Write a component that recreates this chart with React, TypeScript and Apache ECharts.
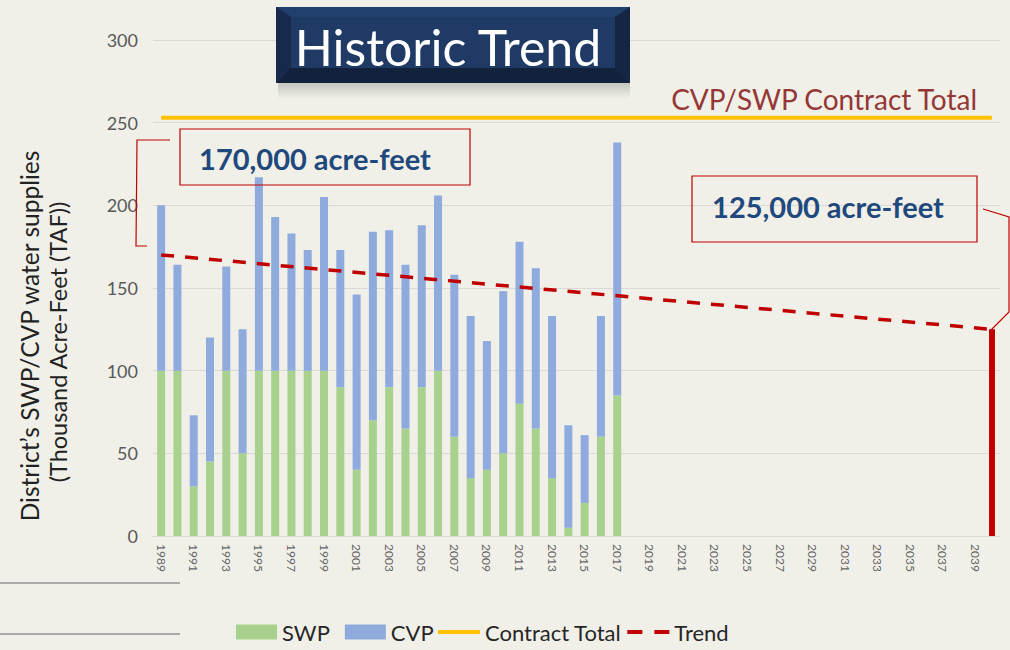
import React, { useEffect, useRef } from "react";
import * as echarts from "echarts";

const years = [
  "1989", "1990", "1991", "1992", "1993", "1994", "1995", "1996", "1997", "1998",
  "1999", "2000", "2001", "2002", "2003", "2004", "2005", "2006", "2007", "2008",
  "2009", "2010", "2011", "2012", "2013", "2014", "2015", "2016", "2017", "2018",
  "2019", "2020", "2021", "2022", "2023", "2024", "2025", "2026", "2027", "2028",
  "2029", "2030", "2031", "2032", "2033", "2034", "2035", "2036", "2037", "2038",
  "2039", "2040",
];

// Thousand acre-feet, 1989-2017
const swp = [100, 100, 30, 45, 100, 50, 100, 100, 100, 100, 100, 90, 40, 70, 90, 65, 90, 100, 60, 35, 40, 50, 80, 65, 35, 5, 20, 60, 85];
const cvp = [100, 64, 43, 75, 63, 75, 117, 93, 83, 73, 105, 83, 106, 114, 95, 99, 98, 106, 98, 98, 78, 98, 98, 97, 98, 62, 41, 73, 153];

const contractTotal = 253;
const trendStart = 170;
const trendEnd = 125;

const yTicks = { min: 0, max: 300, interval: 50 };

const FONT = "Lato, 'Noto Sans', sans-serif";

export default function App() {
  const ref = useRef<HTMLDivElement>(null);

  useEffect(() => {
    if (!ref.current) return;
    const chart = echarts.init(ref.current, null, { renderer: "svg" });
    const last = years.length - 1;
    const trendData = years.map((_, i) => (i === 0 ? trendStart : i === last ? trendEnd : null));
    const contractData = years.map((_, i) => (i === 0 || i === last ? contractTotal : null));

    const graphics: any[] = [
      // left-bottom slide rules
      { type: "line", shape: { x1: 0, y1: 583, x2: 180, y2: 583 }, style: { stroke: "#aaaaaa", lineWidth: 2 } },
      { type: "line", shape: { x1: 0, y1: 634, x2: 180, y2: 634 }, style: { stroke: "#aaaaaa", lineWidth: 2 } },
      // title box shadow
      {
        type: "rect",
        shape: { x: 278, y: 83, width: 352, height: 16 },
        style: {
          fill: new echarts.graphic.LinearGradient(0, 0, 0, 1, [
            { offset: 0, color: "rgba(0,0,0,0.18)" },
            { offset: 1, color: "rgba(0,0,0,0)" },
          ]),
        },
      },
      // title beveled box
      { type: "rect", shape: { x: 276, y: 7, width: 354, height: 76 }, style: { fill: "#1b3159" } },
      { type: "polygon", shape: { points: [[276, 7], [630, 7], [615, 17], [291, 17]] }, style: { fill: "#22406d" } },
      { type: "polygon", shape: { points: [[276, 7], [291, 17], [291, 68], [276, 83]] }, style: { fill: "#172a4c" } },
      { type: "polygon", shape: { points: [[630, 7], [630, 83], [615, 68], [615, 17]] }, style: { fill: "#142643" } },
      { type: "polygon", shape: { points: [[276, 83], [291, 68], [615, 68], [630, 83]] }, style: { fill: "#13223c" } },
      { type: "rect", shape: { x: 291, y: 17, width: 324, height: 51 }, style: { fill: "#1f3a64" } },
      {
        type: "text",
        x: 448,
        y: 47,
        style: {
          text: "Historic Trend",
          fill: "#ffffff",
          font: `50px ${FONT}`,
          textAlign: "center",
          textVerticalAlign: "middle",
        },
      },
      // y axis title
      {
        type: "text",
        x: 29,
        y: 336,
        rotation: Math.PI / 2,
        style: {
          text: "District’s SWP/CVP water supplies",
          fill: "#222222",
          font: `24.5px ${FONT}`,
          textAlign: "center",
          textVerticalAlign: "middle",
        },
      },
      {
        type: "text",
        x: 58,
        y: 342,
        rotation: Math.PI / 2,
        style: {
          text: "(Thousand Acre-Feet (TAF))",
          fill: "#222222",
          font: `23.5px ${FONT}`,
          textAlign: "center",
          textVerticalAlign: "middle",
        },
      },
      // contract label
      {
        type: "text",
        x: 977,
        y: 99,
        style: {
          text: "CVP/SWP Contract Total",
          fill: "#953735",
          font: `28px ${FONT}`,
          textAlign: "right",
          textVerticalAlign: "middle",
        },
      },
      // annotation 1
      { type: "rect", shape: { x: 180, y: 129, width: 290, height: 56 }, style: { fill: "rgba(0,0,0,0)", stroke: "#c00000", lineWidth: 1.2 } },
      {
        type: "text",
        x: 315,
        y: 158,
        style: {
          text: "170,000 acre-feet",
          fill: "#1f497d",
          font: `bold 29px ${FONT}`,
          textAlign: "center",
          textVerticalAlign: "middle",
        },
      },
      { type: "polyline", shape: { points: [[170, 140], [137, 140], [136, 246], [147, 246]] }, style: { stroke: "#c00000", lineWidth: 1.2, fill: null } },
      // annotation 2
      { type: "rect", shape: { x: 692, y: 176, width: 285, height: 66 }, style: { fill: "rgba(0,0,0,0)", stroke: "#c00000", lineWidth: 1.2 } },
      {
        type: "text",
        x: 828,
        y: 206,
        style: {
          text: "125,000 acre-feet",
          fill: "#1f497d",
          font: `bold 29px ${FONT}`,
          textAlign: "center",
          textVerticalAlign: "middle",
        },
      },
      { type: "polyline", shape: { points: [[983, 209], [1009, 217], [1009, 312], [991, 330]] }, style: { stroke: "#c00000", lineWidth: 1.2, fill: null } },
    ].map((g) => ({ ...g, z: 100 }));

    chart.setOption({
      animation: false,
      backgroundColor: "#f0f0e9",
      textStyle: { fontFamily: FONT },
      grid: { left: 153, right: 10, top: 40, bottom: 114, containLabel: false },
      legend: [
        {
          left: 236,
          top: 621,
          padding: 0,
          itemWidth: 41,
          itemHeight: 15,
          itemGap: 15,
          textStyle: { fontSize: 22, color: "#262626", fontFamily: FONT },
          data: [
            { name: "SWP", icon: "rect" },
            { name: "CVP", icon: "rect" },
          ],
        },
        {
          left: 438,
          top: 621,
          padding: 0,
          itemWidth: 42,
          itemHeight: 4,
          itemGap: 6,
          textStyle: { fontSize: 22, color: "#262626", fontFamily: FONT },
          data: [
            { name: "Contract Total", icon: "rect" },
            { name: "Trend", icon: "path://M0,0H15V4H0Z M27,0H42V4H27Z" },
          ],
        },
      ],
      xAxis: {
        type: "category",
        data: years,
        axisLine: { show: true, lineStyle: { color: "#d9d9d9", width: 1 } },
        axisTick: { show: false },
        axisLabel: {
          interval: 1,
          rotate: -90,
          fontSize: 12,
          color: "#666666",
          margin: 8,
          fontFamily: FONT,
        },
      },
      yAxis: {
        type: "value",
        min: yTicks.min,
        max: yTicks.max,
        interval: yTicks.interval,
        axisLine: { show: false },
        axisTick: { show: false },
        splitLine: { lineStyle: { color: "#d9d9d9", width: 1 } },
        axisLabel: { fontSize: 18, color: "#595959", margin: 15, fontFamily: FONT },
      },
      series: [
        {
          name: "SWP",
          type: "bar",
          stack: "total",
          barWidth: 8,
          data: swp,
          itemStyle: { color: "#a9d18e" },
        },
        {
          name: "CVP",
          type: "bar",
          stack: "total",
          barWidth: 8,
          data: cvp,
          itemStyle: { color: "#8faadc" },
        },
        {
          name: "Contract Total",
          type: "line",
          data: contractData,
          connectNulls: true,
          symbol: "none",
          lineStyle: { color: "#ffc000", width: 4 },
          itemStyle: { color: "#ffc000" },
        },
        {
          name: "Trend",
          type: "line",
          data: trendData,
          connectNulls: true,
          symbol: "none",
          z: 5,
          lineStyle: { color: "#c00000", width: 3.5, type: [13, 11] },
          itemStyle: { color: "#c00000" },
          markLine: {
            silent: true,
            symbol: "none",
            label: { show: false },
            lineStyle: { color: "#c00000", width: 6, type: "solid" },
            data: [[{ coord: [years[last], 0] }, { coord: [years[last], trendEnd] }]],
          },
        },
      ],
      graphic: graphics,
    });

    return () => chart.dispose();
  }, []);

  return (
    <div
      ref={ref}
      style={{ position: "fixed", left: 0, top: 0, width: 1010, height: 650, background: "#f0f0e9" }}
    />
  );
}
